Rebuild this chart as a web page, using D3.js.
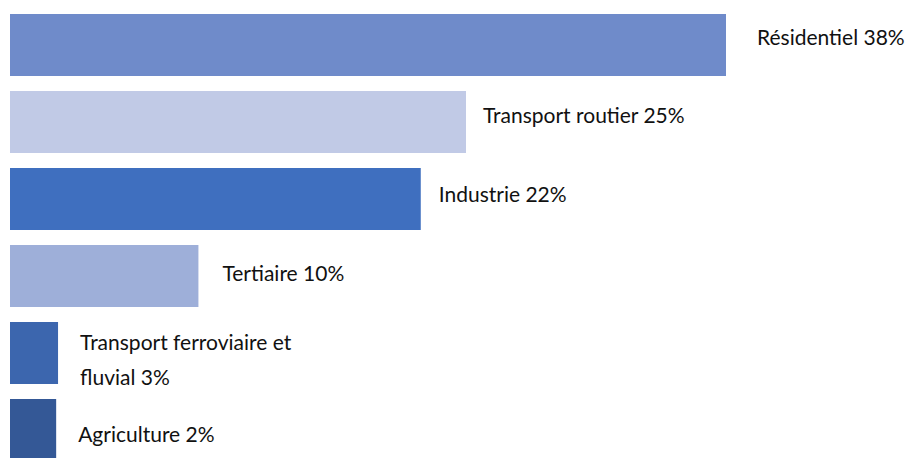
<!DOCTYPE html>
<html>
<head>
<meta charset="utf-8">
<script src="https://cdn.jsdelivr.net/npm/d3@7"></script>
<style>
  html, body { margin: 0; padding: 0; background: #ffffff; }
  svg { display: block; }
</style>
</head>
<body>
<svg id="chart" width="906" height="458"></svg>
<script>
// Data
const categories = ["Résidentiel", "Transport routier", "Industrie", "Tertiaire", "Transport ferroviaire et fluvial", "Agriculture"];
const percentLabels = ["38%", "25%", "22%", "10%", "3%", "2%"];
// bar lengths (in % units)
const values = [38, 24.2, 21.8, 10, 2.55, 2.45];
const colors = ["#6f8bca", "#c1cae6", "#3f6fbf", "#9eafd9", "#3c66ae", "#345896"];

const svg = d3.select("#chart");

const x = d3.scaleLinear().domain([0, 38]).range([10, 726]);
const y = d3.scaleBand().domain(categories).range([14, 14 + 77 * 6 - 15]).paddingInner(15 / 77).paddingOuter(0);

const data = categories.map((c, i) => ({ c, v: values[i], p: percentLabels[i], col: colors[i] }));

svg.append("g").selectAll("rect").data(data).join("rect")
  .attr("x", x(0))
  .attr("y", d => y(d.c))
  .attr("width", d => x(d.v) - x(0))
  .attr("height", y.bandwidth())
  .attr("fill", d => d.col);

// label placement tweaks (layout only)
const labelGap = [31, 17, 18, 24, 22, 22];
const labelDy = [0, 1, 3, 5, -3, 12];

const lbl = svg.append("g")
  .style("font-family", "Lato, 'Open Sans', sans-serif")
  .style("font-size", "21px")
  .style("fill", "#111");

data.forEach((d, i) => {
  const cx = x(d.v) + labelGap[i];
  const cy = y(d.c) + y.bandwidth() / 2 + labelDy[i];
  if (i === 4) {
    const t = lbl.append("text").attr("x", cx).attr("y", cy);
    t.append("tspan").attr("x", cx).attr("y", cy).text("Transport ferroviaire et");
    t.append("tspan").attr("x", cx).attr("y", cy + 35).text("fluvial " + d.p);
  } else {
    lbl.append("text").attr("x", cx).attr("y", cy).text(d.c + " " + d.p);
  }
});
</script>
</body>
</html>
